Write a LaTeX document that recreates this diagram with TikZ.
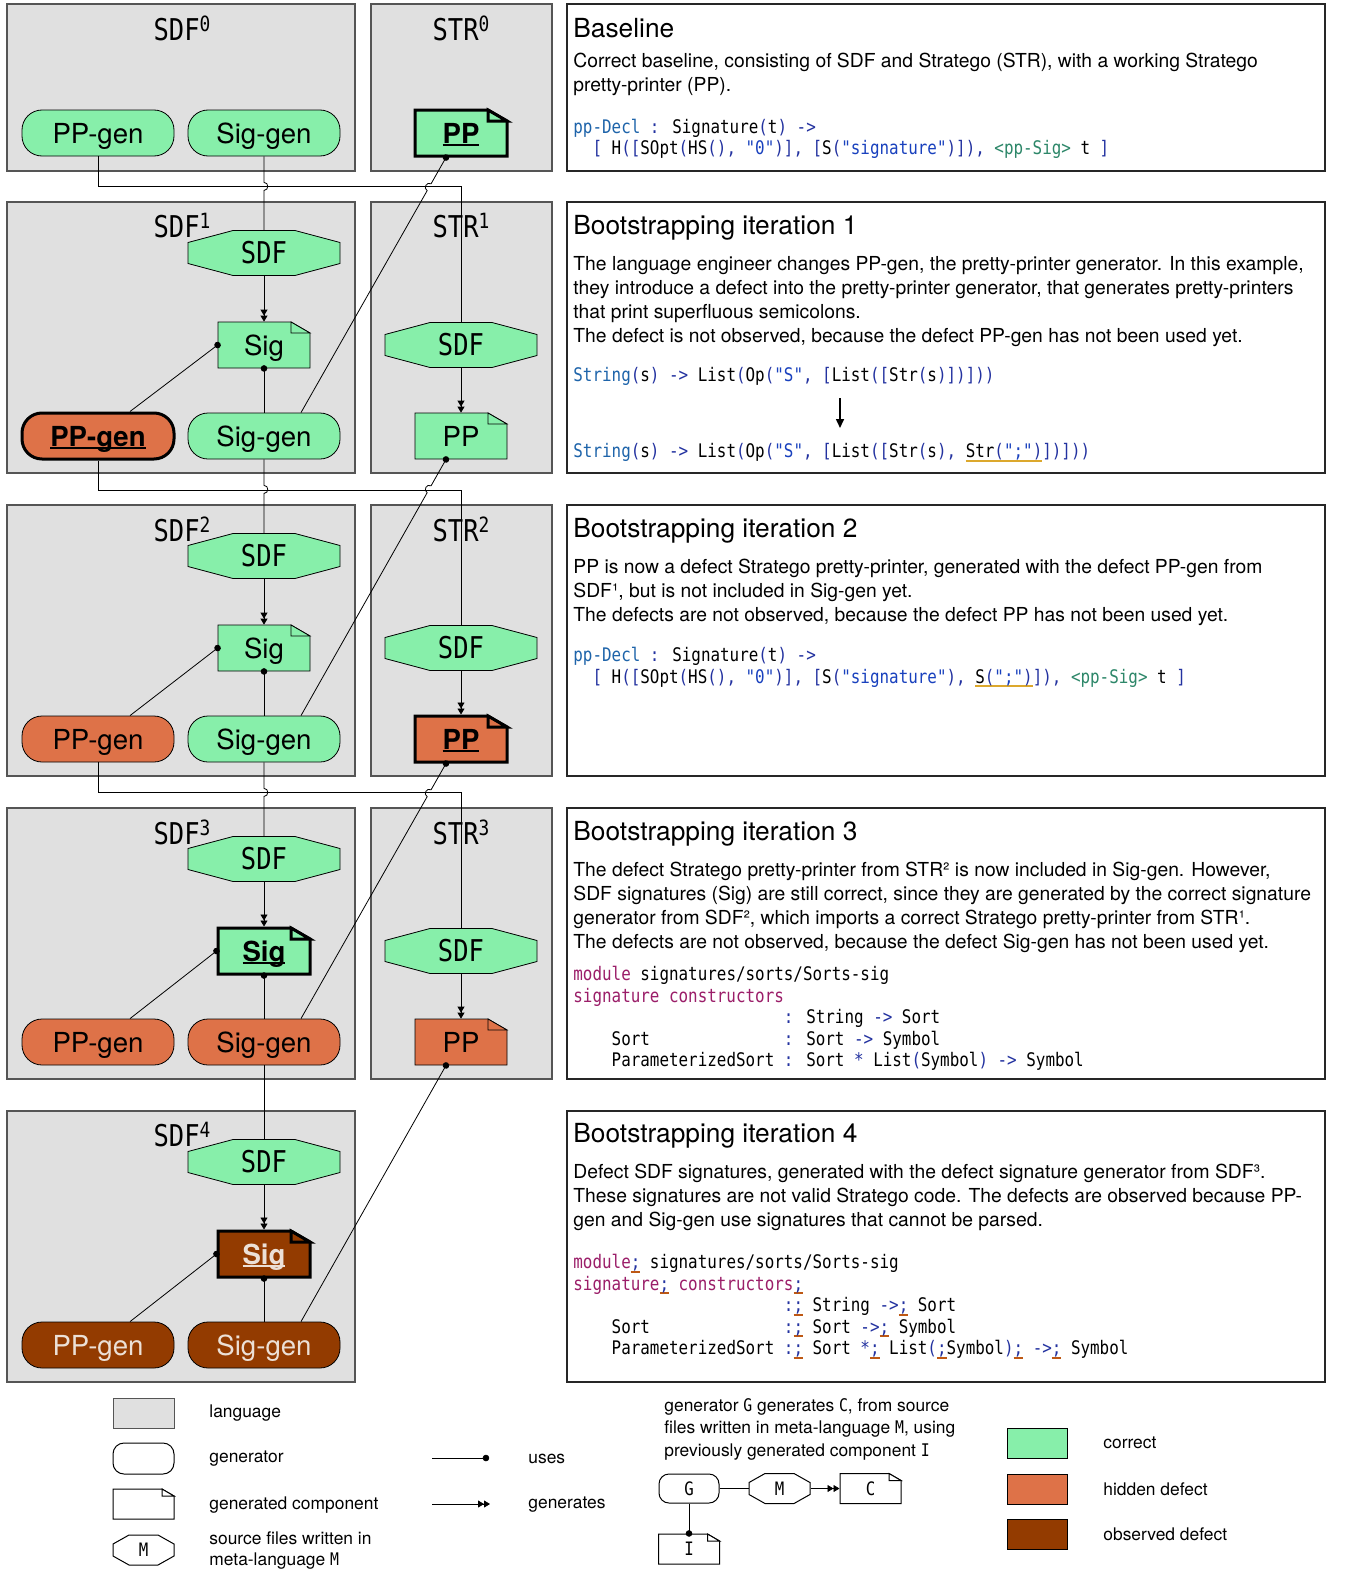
\documentclass[tikz,border=0pt]{standalone}
\usepackage{fontspec}
\setmainfont{TeX Gyre Heros}
\newfontfamily\codefont{DejaVu Sans Mono}[FakeStretch=0.85]
\usetikzlibrary{calc,arrows.meta}

\definecolor{ok}{RGB}{135,239,170}
\definecolor{hid}{RGB}{222,114,72}
\definecolor{obs}{RGB}{147,59,0}
\definecolor{obstext}{RGB}{236,224,214}
\definecolor{langgray}{RGB}{224,224,224}
\definecolor{langline}{RGB}{85,85,85}
\definecolor{cblue}{RGB}{30,100,170}
\definecolor{cpunct}{RGB}{35,50,160}
\definecolor{cstr}{RGB}{25,65,190}
\definecolor{cgreen}{RGB}{45,135,105}
\definecolor{cmagenta}{RGB}{155,30,105}
\definecolor{gold}{RGB}{220,168,45}
\definecolor{obsline}{RGB}{190,88,20}

\newcommand{\kw}[1]{\textcolor{cblue}{#1}}
\newcommand{\pu}[1]{\textcolor{cpunct}{#1}}
\newcommand{\strc}[1]{\textcolor{cstr}{#1}}
\newcommand{\grn}[1]{\textcolor{cgreen}{#1}}
\newcommand{\cmag}[1]{\textcolor{cmagenta}{#1}}
\newcommand{\undl}[2]{\setbox0\hbox{#2}\rlap{\textcolor{#1}{\rule[-4pt]{\wd0}{2pt}}}\box0}
\newcommand{\semi}{\undl{obsline}{\pu{;}}}
\newcommand{\chg}[1]{\setbox0\hbox{\bfseries #1}\rlap{\rule[-2.5pt]{\wd0}{2pt}}\box0}
\newcommand{\langname}[2]{#1\raisebox{0.3em}{\fontsize{21}{21}\selectfont #2}}
\newcommand{\keyfont}{\codefont\fontsize{18.5}{18.5}\selectfont}

\newcommand{\docw}{92}
\newcommand{\doch}{46}
\newcommand{\foldw}{19}
\newcommand{\foldh}{11}
\newcommand{\docnode}[4][]{%
  \filldraw[#1] (#3) ++({-\docw/2},{\doch/2}) -- ++(0,-\doch) -- ++({\docw-\foldw},0)
    -- ++(\foldw,\foldh) -- ++(0,{\doch-\foldh}) -- cycle;
  \filldraw[#1] (#3) ++({\docw/2-\foldw},{-\doch/2}) -- ++(0,\foldh) -- ++(\foldw,0) -- cycle;
  \node[doc,#1,draw=none,fill=none] (#2) at (#3) {#4};
}
\newcommand{\srcw}{152}
\newcommand{\srch}{45}
\newcommand{\chx}{45}
\newcommand{\chy}{12}
\newcommand{\srcnode}[4][]{%
  \filldraw[#1] (#3) ++({-\srcw/2},{-\srch/2+\chy}) -- ++(\chx,-\chy) -- ++({\srcw-2*\chx},0)
    -- ++(\chx,\chy) -- ++(0,{\srch-2*\chy}) -- ++(-\chx,\chy) -- ++({-\srcw+2*\chx},0)
    -- ++(-\chx,-\chy) -- cycle;
  \node[srctext,#1,draw=none,fill=none] (#2) at (#3) {#4};
}

\tikzset{
  langbox/.style={draw=langline,fill=langgray,line width=1.3pt},
  textbox/.style={draw=black!85,fill=white,line width=1.3pt},
  gen/.style={draw,rounded corners=20pt,minimum width=152pt,minimum height=46pt,inner sep=0pt,
    text height=20pt,text depth=0pt,font=\fontsize{27.6}{28}\selectfont},
  doc/.style={minimum width=\docw*1pt,minimum height=\doch*1pt,inner sep=0pt,
    text height=20pt,text depth=0pt,font=\fontsize{27.6}{28}\selectfont},
  srctext/.style={minimum width=\srcw*1pt,minimum height=\srch*1pt,inner sep=0pt,
    font=\codefont\fontsize{30}{30}\selectfont},
  changed/.style={line width=3pt},
  dark/.style={text=obstext},
  langlabel/.style={inner sep=0pt,font=\codefont\fontsize{30}{30}\selectfont},
  title/.style={anchor=base west,inner sep=0pt,font=\fontsize{26.3}{30}\selectfont},
  body/.style={anchor=north west,align=left,inner sep=0pt,font=\fontsize{19.3}{24}\selectfont},
  code/.style={anchor=north west,align=left,inner sep=0pt,font=\codefont\fontsize{18.7}{21.5}\selectfont},
  keytext/.style={anchor=west,inner sep=0pt,font=\fontsize{17.4}{21}\selectfont},
  uses/.style={-{Circle[length=6.5pt]},shorten >=-3.2pt},
  gens/.style={-{Triangle[length=6pt,width=7pt]Triangle[length=6pt,width=7pt]}},
}

\begin{document}
\begin{tikzpicture}[x=1pt,y=-1pt,line width=0.8pt]
\path[use as bounding box,fill=white] (0,0) rectangle (1345,1587);

% languages
\draw[langbox] (7,4) rectangle (355,171);
\draw[langbox] (371,4) rectangle (552,171);
\draw[langbox] (7,202) rectangle (355,473);
\draw[langbox] (371,202) rectangle (552,473);
\draw[langbox] (7,505) rectangle (355,776);
\draw[langbox] (371,505) rectangle (552,776);
\draw[langbox] (7,808) rectangle (355,1079);
\draw[langbox] (371,808) rectangle (552,1079);
\draw[langbox] (7,1111) rectangle (355,1382);
\draw[textbox] (567,4) rectangle (1325,171);
\draw[textbox] (567,202) rectangle (1325,473);
\draw[textbox] (567,505) rectangle (1325,776);
\draw[textbox] (567,808) rectangle (1325,1079);
\draw[textbox] (567,1111) rectangle (1325,1382);

% iteration 0
\node[langlabel] (sdf0-name) at (182,28) {\langname{SDF}{0}};
\node[langlabel] (str0-name) at (461,28) {\langname{STR}{0}};
\node[gen,fill=ok] (pg0) at (98,133) {PP-gen};
\node[gen,fill=ok] (sg0) at (264,133) {Sig-gen};
\docnode[fill=ok,changed]{pp0}{461,133}{\chg{PP}}

% iteration 1
\node[langlabel] (sdf1-name) at (182,226) {\langname{SDF}{1}};
\node[langlabel] (str1-name) at (461,226) {\langname{STR}{1}};
\srcnode[fill=ok]{sdf1}{264,253}{SDF}
\docnode[fill=ok]{sig1}{264,345}{Sig}
\node[gen,fill=hid,changed] (pg1) at (98,436) {\chg{PP-gen}};
\node[gen,fill=ok] (sg1) at (264,436) {Sig-gen};
\srcnode[fill=ok]{ssdf1}{461,345}{SDF}
\docnode[fill=ok]{pp1}{461,436}{PP}

% iteration 2
\node[langlabel] (sdf2-name) at (182,529) {\langname{SDF}{2}};
\node[langlabel] (str2-name) at (461,529) {\langname{STR}{2}};
\srcnode[fill=ok]{sdf2}{264,556}{SDF}
\docnode[fill=ok]{sig2}{264,648}{Sig}
\node[gen,fill=hid] (pg2) at (98,739) {PP-gen};
\node[gen,fill=ok] (sg2) at (264,739) {Sig-gen};
\srcnode[fill=ok]{ssdf2}{461,648}{SDF}
\docnode[fill=hid,changed]{pp2}{461,739}{\chg{PP}}

% iteration 3
\node[langlabel] (sdf3-name) at (182,832) {\langname{SDF}{3}};
\node[langlabel] (str3-name) at (461,832) {\langname{STR}{3}};
\srcnode[fill=ok]{sdf3}{264,859}{SDF}
\docnode[fill=ok,changed]{sig3}{264,951}{\chg{Sig}}
\node[gen,fill=hid] (pg3) at (98,1042) {PP-gen};
\node[gen,fill=hid] (sg3) at (264,1042) {Sig-gen};
\srcnode[fill=ok]{ssdf3}{461,951}{SDF}
\docnode[fill=hid]{pp3}{461,1042}{PP}

% iteration 4
\node[langlabel] (sdf4-name) at (182,1135) {\langname{SDF}{4}};
\srcnode[fill=ok]{sdf4}{264,1162}{SDF}
\docnode[fill=obs,changed,dark]{sig4}{264,1254}{\chg{Sig}}
\node[gen,fill=obs,dark] (pg4) at (98,1345) {PP-gen};
\node[gen,fill=obs,dark] (sg4) at (264,1345) {Sig-gen};

% within the iterations
\draw[gens] (sdf1.south) -- (sig1.north);
\draw[uses] (sg1.north) -- (sig1.south);
\draw[uses] ($(pg1.north)+(32,0)$) -- (sig1.west);
\draw[gens] (ssdf1.south) -- (pp1.north);
\draw[gens] (sdf2.south) -- (sig2.north);
\draw[uses] (sg2.north) -- (sig2.south);
\draw[uses] ($(pg2.north)+(32,0)$) -- (sig2.west);
\draw[gens] (ssdf2.south) -- (pp2.north);
\draw[gens] (sdf3.south) -- (sig3.north);
\draw[uses] (sg3.north) -- (sig3.south);
\draw[uses] ($(pg3.north)+(32,0)$) -- (sig3.west);
\draw[gens] (ssdf3.south) -- (pp3.north);
\draw[gens] (sdf4.south) -- (sig4.north);
\draw[uses] (sg4.north) -- (sig4.south);
\draw[uses] ($(pg4.north)+(32,0)$) -- (sig4.west);

% from one iteration to the next
\draw (pg0.south) -- ++(0,30) -| (ssdf1.north);
\draw (sg0.south) -- ($(sg0.south)+(0,26)$) to[out=0,in=0,looseness=1.6]
      ($(sg0.south)+(0,34)$) -- (sdf1.north);
\coordinate (u1a) at ($(sg1.north)+(37,0)$);
\coordinate (u1b) at ($(pp0.south)+(-15,0)$);
\draw[uses] (u1a) -- ($(u1a)!.870!(u1b)$) to[out=150,in=150,looseness=1.6]
      ($(u1a)!.897!(u1b)$) -- (u1b);

\draw (pg1.south) -- ++(0,30) -| (ssdf2.north);
\draw (sg1.south) -- ($(sg1.south)+(0,26)$) to[out=0,in=0,looseness=1.6]
      ($(sg1.south)+(0,34)$) -- (sdf2.north);
\coordinate (u2a) at ($(sg2.north)+(37,0)$);
\coordinate (u2b) at ($(pp1.south)+(-15,0)$);
\draw[uses] (u2a) -- ($(u2a)!.870!(u2b)$) to[out=150,in=150,looseness=1.6]
      ($(u2a)!.897!(u2b)$) -- (u2b);

\draw (pg2.south) -- ++(0,30) -| (ssdf3.north);
\draw (sg2.south) -- ($(sg2.south)+(0,26)$) to[out=0,in=0,looseness=1.6]
      ($(sg2.south)+(0,34)$) -- (sdf3.north);
\coordinate (u3a) at ($(sg3.north)+(37,0)$);
\coordinate (u3b) at ($(pp2.south)+(-15,0)$);
\draw[uses] (u3a) -- ($(u3a)!.870!(u3b)$) to[out=150,in=150,looseness=1.6]
      ($(u3a)!.897!(u3b)$) -- (u3b);

\draw (sg3.south) -- (sdf4.north);
\draw[uses] ($(sg4.north)+(37,0)$) -- ($(pp3.south)+(-15,0)$);

% descriptions
\node[title] (title0) at (573,37.5) {Baseline};
\node[body] (text0) at (573,53) {Correct baseline, consisting of SDF and Stratego (STR), with a working Stratego\\
pretty-printer (PP).};
\node[code] (code0) at (573,118.5) {\kw{pp-Decl} \pu{:} Signature\pu{(}t\pu{)} \pu{->}\\
\phantom{xx}\pu{[} H\pu{([}SOpt\pu{(}HS\pu{(),} \strc{"0"}\pu{)],} \pu{[}S\pu{(}\strc{"signature"}\pu{)]),} \grn{<pp-Sig>} t \pu{]}};

\node[title] (title1) at (573,234.5) {Bootstrapping iteration 1};
\node[body] (text1) at (573,256) {The language engineer changes PP-gen, the pretty-printer generator. In this example,\\
they introduce a defect into the pretty-printer generator, that generates pretty-printers\\
that print superfluous semicolons.\\
The defect is not observed, because the defect PP-gen has not been used yet.};
\node[code] (code1a) at (573,367) {\kw{String}\pu{(}s\pu{)} \pu{->} List\pu{(}Op\pu{(}\strc{"S"}\pu{,} \pu{[}List\pu{([}Str\pu{(}s\pu{)])]))}};
\node[code] (code1b) at (573,443) {\kw{String}\pu{(}s\pu{)} \pu{->} List\pu{(}Op\pu{(}\strc{"S"}\pu{,} \pu{[}List\pu{([}Str\pu{(}s\pu{),} \undl{gold}{Str\pu{(}\strc{";"}\pu{)}}\pu{])]))}};
\coordinate (step1a) at (840,398);
\coordinate (step1b) at (840,428);
\draw[-{Triangle[length=9pt,width=8pt]},line width=1.6pt] (step1a) -- (step1b);

\node[title] (title2) at (573,537.5) {Bootstrapping iteration 2};
\node[body] (text2) at (573,559) {PP is now a defect Stratego pretty-printer, generated with the defect PP-gen from\\
SDF¹, but is not included in Sig-gen yet.\\
The defects are not observed, because the defect PP has not been used yet.};
\node[code] (code2) at (573,647) {\kw{pp-Decl} \pu{:} Signature\pu{(}t\pu{)} \pu{->}\\
\phantom{xx}\pu{[} H\pu{([}SOpt\pu{(}HS\pu{(),} \strc{"0"}\pu{)],} \pu{[}S\pu{(}\strc{"signature"}\pu{),} \undl{gold}{S\pu{(}\strc{";"}\pu{)}}\pu{]),} \grn{<pp-Sig>} t \pu{]}};

\node[title] (title3) at (573,840.5) {Bootstrapping iteration 3};
\node[body] (text3) at (573,862) {The defect Stratego pretty-printer from STR² is now included in Sig-gen. However,\\
SDF signatures (Sig) are still correct, since they are generated by the correct signature\\
generator from SDF², which imports a correct Stratego pretty-printer from STR¹.\\
The defects are not observed, because the defect Sig-gen has not been used yet.};
\node[code] (code3) at (573,966) {\cmag{module} signatures/sorts/Sorts-sig\\
\cmag{signature constructors}\\
\phantom{xxxx}\phantom{ParameterizedSort} \pu{:} String \pu{->} Sort\\
\phantom{xxxx}Sort\phantom{xxxxxxxxxxxxx} \pu{:} Sort \pu{->} Symbol\\
\phantom{xxxx}ParameterizedSort \pu{:} Sort \pu{*} List\pu{(}Symbol\pu{)} \pu{->} Symbol};

\node[title] (title4) at (573,1142.5) {Bootstrapping iteration 4};
\node[body] (text4) at (573,1164) {Defect SDF signatures, generated with the defect signature generator from SDF³.\\
These signatures are not valid Stratego code. The defects are observed because PP-\\
gen and Sig-gen use signatures that cannot be parsed.};
\node[code] (code4) at (573,1254) {\cmag{module}\semi{} signatures/sorts/Sorts-sig\\
\cmag{signature}\semi{} \cmag{constructors}\semi\\
\phantom{xxxx}\phantom{ParameterizedSort} \pu{:}\semi{} String \pu{->}\semi{} Sort\\
\phantom{xxxx}Sort\phantom{xxxxxxxxxxxxx} \pu{:}\semi{} Sort \pu{->}\semi{} Symbol\\
\phantom{xxxx}ParameterizedSort \pu{:}\semi{} Sort \pu{*}\semi{} List\pu{(}\semi{}Symbol\pu{)}\semi{} \pu{->}\semi{} Symbol};

% legend
\draw[langbox,line width=1pt] (113,1398) rectangle (174,1428);
\node[keytext] (key-lang) at (209,1413) {language};
\node[gen,line width=1pt,minimum width=61pt,minimum height=31pt,rounded corners=11pt] (key-gen) at (143.5,1458.5) {};
\node[keytext] (key-gen-text) at (209,1459) {generator};
\renewcommand{\docw}{61}\renewcommand{\doch}{30}\renewcommand{\foldw}{12}\renewcommand{\foldh}{7}
\docnode[fill=white,line width=1pt]{key-doc}{143.5,1504}{}
\node[keytext] (key-doc-text) at (209,1505) {generated component};
\renewcommand{\srcw}{61}\renewcommand{\srch}{30}\renewcommand{\chx}{16}\renewcommand{\chy}{9}
\srcnode[fill=white,line width=1pt,font=\keyfont]{key-src}{143.5,1550}{M}
\node[keytext,anchor=north west,align=left] (key-src-text) at (209,1531) {source files written in\\
meta-language {\codefont M}};

\coordinate (key-u0) at (432,1458);
\coordinate (key-u1) at (486,1458);
\draw[uses] (key-u0) -- (key-u1);
\node[keytext] (key-uses) at (528,1459) {uses};
\coordinate (key-g0) at (432,1504);
\coordinate (key-g1) at (490,1504);
\draw[gens] (key-g0) -- (key-g1);
\node[keytext] (key-gens) at (528,1505) {generates};

\node[keytext,anchor=north west,align=left,font=\fontsize{17.4}{22.5}\selectfont] (key-example) at (664,1398)
  {generator {\codefont G} generates {\codefont C}, from source\\
   files written in meta-language {\codefont M}, using\\
   previously generated component {\codefont I}};
\node[gen,line width=1pt,minimum width=60pt,minimum height=29pt,rounded corners=10pt,font=\keyfont,text height=13.5pt] (ex-g) at (689,1488.5) {G};
\srcnode[fill=white,line width=1pt,font=\keyfont]{ex-m}{779.5,1488.5}{M}
\docnode[fill=white,line width=1pt,font=\keyfont,text height=13.5pt]{ex-c}{870.5,1488.5}{C}
\docnode[fill=white,line width=1pt,font=\keyfont,text height=13.5pt]{ex-i}{689,1549}{I}
\draw (ex-g) -- (ex-m);
\draw[gens] (ex-m) -- (ex-c);
\draw[uses] (ex-g) -- (ex-i);

\draw[fill=ok] (1007,1428) rectangle (1067,1458);
\node[keytext] (key-ok) at (1103,1443) {correct};
\draw[fill=hid] (1007,1474) rectangle (1067,1504);
\node[keytext] (key-hid) at (1103,1489) {hidden defect};
\draw[fill=obs] (1007,1519) rectangle (1067,1549);
\node[keytext] (key-obs) at (1103,1534) {observed defect};
\end{tikzpicture}
\end{document}
